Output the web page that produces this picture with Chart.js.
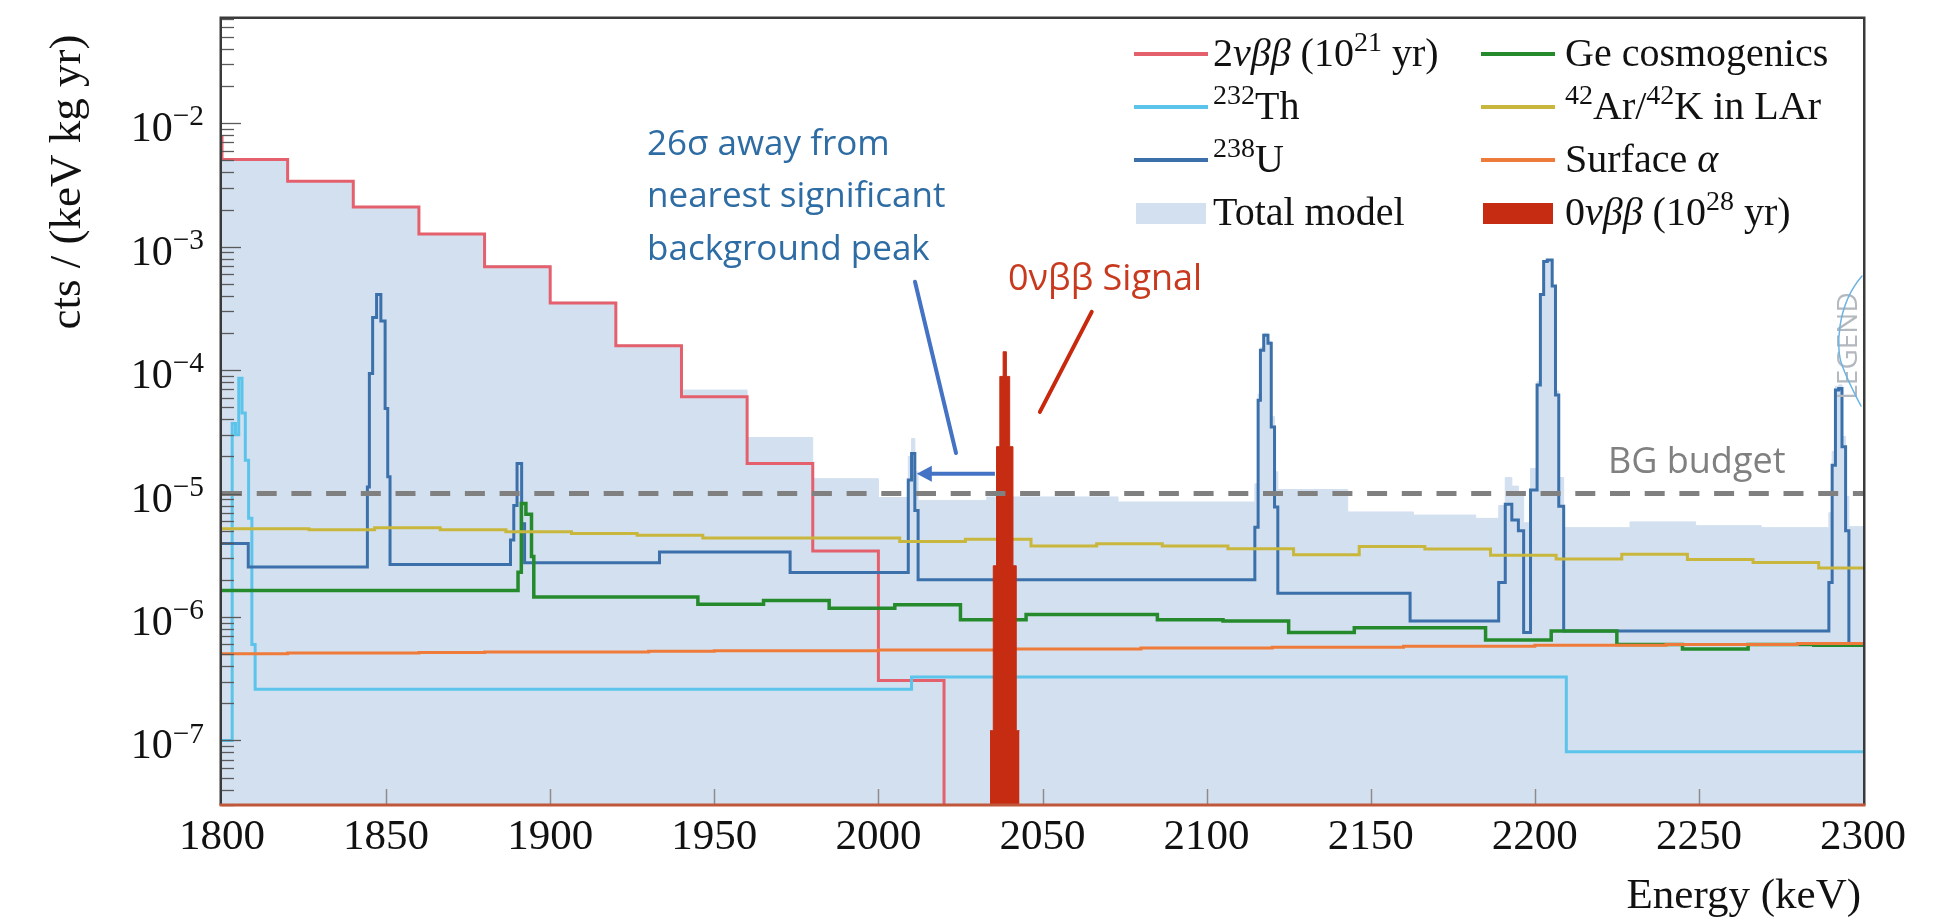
<!DOCTYPE html>
<html>
<head>
<meta charset="utf-8">
<title>Background model around Qbb</title>
<script src="https://cdn.jsdelivr.net/npm/chart.js@4.4.1/dist/chart.umd.min.js"></script>
<style>
  html, body { margin: 0; padding: 0; background: #fff; }
  #wrap { width: 1957px; height: 921px; }
</style>
</head>
<body>
<div id="wrap"><canvas id="bgChart" width="1957" height="921"></canvas></div>
<script>
// Histogram bin edges (keV) and contents (cts / (keV kg yr))
const twoNuEdges = [1780, 1800, 1820, 1840, 1860, 1880, 1900, 1920, 1940, 1960, 1980, 2000, 2020, 2300];
const twoNuValues = [7.7e-3, 5.1e-3, 3.4e-3, 2.1e-3, 1.27e-3, 6.9e-4, 3.5e-4, 1.58e-4, 6.1e-5, 1.75e-5, 3.42e-6, 3.06e-7, 1e-9];

const thEdges = [1800, 1803.1, 1804.1, 1805.1, 1806.1, 1807.1, 1808.1, 1809.1, 1810.1, 2010.1, 2209.6, 2300];
const thValues = [1.0e-7, 3.7e-5, 3.0e-5, 8.6e-5, 4.5e-5, 1.86e-5, 6.3e-6, 6.0e-7, 2.6e-7, 3.26e-7, 8.1e-8];

const uEdges = [1800, 1808.0, 1844.3, 1844.9, 1845.9, 1847.1, 1848.4, 1849.7, 1850.5, 1851.2,
  1887.9, 1888.9, 1889.9, 1891.3, 1892.2, 1933.3, 1973.1, 2009.1, 2010.1, 2011.1, 2012.1,
  2114.7, 2115.7, 2116.4, 2117.4, 2118.7, 2119.7, 2120.7, 2121.7, 2162.0,
  2189.0, 2191.0, 2193.0, 2195.0, 2196.6, 2198.7, 2200.7, 2201.7, 2202.7, 2203.8, 2205.3, 2206.3, 2207.3, 2208.8,
  2289.6, 2290.6, 2291.6, 2292.6, 2293.6, 2294.7, 2295.7, 2300];
const uValues = [3.94e-6, 2.54e-6, 1.13e-5, 9.4e-5, 2.67e-4, 4.1e-4, 2.5e-4, 4.9e-5, 1.37e-5, 2.67e-6,
  4.2e-6, 8.0e-6, 1.75e-5, 5.7e-6, 2.75e-6, 3.36e-6, 2.29e-6, 1.29e-5, 2.11e-5, 7.3e-6, 2.0e-6,
  5.35e-6, 5.7e-5, 1.45e-4, 1.92e-4, 1.65e-4, 3.47e-5, 7.8e-6, 1.56e-6, 9.3e-7,
  1.9e-6, 8.2e-6, 6.1e-6, 5.0e-6, 7.5e-7, 1.07e-5, 7.6e-5, 4.1e-4, 7.6e-4, 7.8e-4, 4.8e-4, 6.3e-5, 7.9e-6, 7.7e-7,
  1.9e-6, 1.7e-5, 6.9e-5, 7.1e-5, 2.4e-5, 5.0e-6, 6.0e-7];

const geEdges = [1800, 1890.2, 1891.2, 1892.6, 1894.3, 1895.0, 1945, 1965, 1985, 2005, 2025, 2045, 2085, 2105, 2125, 2145, 2185, 2205, 2225, 2245, 2265, 2285, 2300];
const geValues = [1.64e-6, 2.31e-6, 8.3e-6, 6.8e-6, 3.1e-6, 1.45e-6, 1.27e-6, 1.36e-6, 1.18e-6, 1.26e-6, 9.5e-7, 1.05e-6, 9.5e-7, 9.3e-7, 7.5e-7, 8.2e-7, 6.5e-7, 7.7e-7, 6.0e-7, 5.5e-7, 6.0e-7, 5.9e-7];

const arEdges = [1800, 1826.5, 1846.5, 1866.5, 1886.5, 1906.5, 1926.5, 1946.5, 2006.5, 2026.5, 2046.5, 2066.5, 2086.5, 2106.5, 2126.5, 2146.5, 2166.5, 2186.5, 2206.5, 2226.5, 2246.5, 2266.5, 2286.5, 2300];
const arValues = [5.2e-6, 5.1e-6, 5.3e-6, 5.1e-6, 4.9e-6, 4.76e-6, 4.6e-6, 4.37e-6, 4.1e-6, 4.27e-6, 3.76e-6, 3.93e-6, 3.76e-6, 3.58e-6, 3.2e-6, 3.72e-6, 3.56e-6, 3.16e-6, 2.95e-6, 3.23e-6, 2.92e-6, 2.77e-6, 2.5e-6];

const alphaEdges = [1800, 1820, 1860, 1880, 1930, 1950, 2000, 2040, 2080, 2120, 2160, 2200, 2240, 2280, 2300];
const alphaValues = [5.05e-7, 5.12e-7, 5.15e-7, 5.2e-7, 5.27e-7, 5.33e-7, 5.4e-7, 5.5e-7, 5.6e-7, 5.7e-7, 5.8e-7, 5.9e-7, 6.0e-7, 6.1e-7];

const totalEdges = [1800, 1820, 1840, 1860, 1880, 1900, 1920, 1940, 1960, 1980, 2000, 2009.1, 2010.1, 2011.1, 2012.1, 2033, 2073,
  2114.7, 2115.7, 2116.4, 2117.4, 2118.7, 2119.7, 2120.7, 2121.7, 2143, 2163, 2182,
  2189, 2191, 2193, 2195, 2196.6, 2198.7, 2200.7, 2201.7, 2202.7, 2203.8, 2205.3, 2206.3, 2207.3, 2208.8,
  2229, 2249, 2269, 2289.6, 2290.6, 2291.6, 2292.6, 2293.6, 2294.7, 2295.7, 2300];
const totalValues = [5.12e-3, 3.42e-3, 2.12e-3, 1.28e-3, 7.0e-4, 3.55e-4, 1.6e-4, 6.9e-5, 2.85e-5, 1.32e-5, 9.3e-6, 2.0e-5, 2.8e-5, 1.5e-5, 8.8e-6, 9.4e-6, 8.55e-6,
  1.2e-5, 6.4e-5, 1.52e-4, 1.99e-4, 1.72e-4, 4.2e-5, 1.5e-5, 1.08e-5, 7.1e-6, 6.7e-6, 6.3e-6,
  8.0e-6, 1.35e-5, 1.15e-5, 1.0e-5, 5.8e-6, 1.6e-5, 8.1e-5, 4.15e-4, 7.65e-4, 7.85e-4, 4.85e-4, 6.8e-5, 1.35e-5, 5.3e-6,
  5.9e-6, 5.5e-6, 5.3e-6, 7.0e-6, 2.2e-5, 7.4e-5, 7.6e-5, 2.9e-5, 9.5e-6, 5.4e-6];

const signalEdges = [2034, 2035, 2036, 2037, 2038, 2039, 2040, 2041, 2042, 2043];
const signalValues = [1.2e-7, 2.6e-6, 2.4e-5, 8.9e-5, 1.41e-4, 8.9e-5, 2.4e-5, 2.6e-6, 1.2e-7];

const budgetLevel = 1e-5;

// Axes
const xRange = [1800, 2300];
const yRange = [3e-8, 7e-2];
const xTicks = [1800, 1850, 1900, 1950, 2000, 2050, 2100, 2150, 2200, 2250, 2300];
const yTickExponents = [-7, -6, -5, -4, -3, -2];
const xTitle = 'Energy (keV)';
const yTitle = 'cts / (keV kg yr)';

// Legend labels ($ toggles italic, ^{..} is a superscript)
const legendLabels = ['2$νββ$ (10^{21} yr)', '^{232}Th', '^{238}U', 'Total model',
  'Ge cosmogenics', '^{42}Ar/^{42}K in LAr', 'Surface $α$', '0$νββ$ (10^{28} yr)'];

const peakNote = ['26σ away from', 'nearest significant', 'background peak'];
const signalNote = '0νββ Signal';
const budgetNote = 'BG budget';

const SERIF = "'Liberation Serif', 'Times New Roman', serif";
const SANS = "'Open Sans', 'Noto Sans', sans-serif";

// helper: histogram -> step points
const toSteps = (edges, values) => {
    const pts = values.map((v, i) => ({ x: edges[i], y: v }));
    pts.push({ x: edges[edges.length - 1], y: values[values.length - 1] });
    return pts;
};

const lineSet = (label, edges, values, color, width, order) => ({
    label, data: toSteps(edges, values), stepped: true,
    borderColor: color, borderWidth: width, backgroundColor: color,
    pointRadius: 0, fill: false, order
});

const ds2nu = lineSet('2νββ', twoNuEdges, twoNuValues, '#e4606d', 3, 7);
const dsTh = lineSet('232Th', thEdges, thValues, '#5cc4ea', 3, 6);
const dsU = lineSet('238U', uEdges, uValues, '#3b70aa', 3, 5);
const dsGe = lineSet('Ge cosmogenics', geEdges, geValues, '#248a2c', 3.5, 4);
const dsAr = lineSet('42Ar/42K in LAr', arEdges, arValues, '#c9b63c', 3, 3);
const dsAlpha = lineSet('Surface alpha', alphaEdges, alphaValues, '#ef7b3a', 3, 2);
const dsTotal = {
    label: 'Total model', data: toSteps(totalEdges, totalValues), stepped: true,
    borderColor: '#d3e0f0', borderWidth: 1, backgroundColor: '#d3e0f0',
    pointRadius: 0, fill: 'start', order: 8, legendBox: true
};
const dsSignal = {
    label: '0νββ', data: toSteps(signalEdges, signalValues), stepped: true,
    borderColor: '#c62c12', borderWidth: 1, backgroundColor: '#c62c12',
    pointRadius: 0, fill: 'start', order: 1, legendBox: true
};
const dsBudget = {
    label: 'BG budget', data: [{ x: xRange[0], y: budgetLevel }, { x: xRange[1], y: budgetLevel }],
    borderColor: '#808080', borderWidth: 5, borderDash: [20, 14.7], pointRadius: 0, fill: false, order: 0
};

const legendSets = [ds2nu, dsTh, dsU, dsTotal, dsGe, dsAr, dsAlpha, dsSignal];

// rich text: italics + superscripts
function richParts(str) {
    const parts = [];
    let it = false, buf = '', i = 0;
    const flush = (sup) => { if (buf) parts.push({ t: buf, it, sup: !!sup }); buf = ''; };
    while (i < str.length) {
        const c = str[i];
        if (c === '$') { flush(); it = !it; i++; }
        else if (c === '^' && str[i + 1] === '{') {
            flush();
            const j = str.indexOf('}', i);
            buf = str.slice(i + 2, j);
            flush(true);
            i = j + 1;
        } else { buf += c; i++; }
    }
    flush();
    return parts;
}

function drawRich(ctx, str, x, y, size, color, measureOnly) {
    let cx = x;
    richParts(str).forEach(p => {
        const s = p.sup ? size * 0.7 : size;
        ctx.font = `${p.it ? 'italic ' : ''}${s}px ${SERIF}`;
        if (!measureOnly) {
            ctx.fillStyle = color;
            ctx.fillText(p.t, cx, p.sup ? y - size * 0.38 : y);
        }
        cx += ctx.measureText(p.t).width;
    });
    return cx - x;
}

const decorPlugin = {
    id: 'decor',
    beforeDatasetsDraw(chart) {
        // frame sits just outside the plot area so edge steps stay visible
        const { ctx, chartArea: area } = chart;
        ctx.save();
        ctx.strokeStyle = '#3a3a3a';
        ctx.lineWidth = 2.5;
        ctx.beginPath();
        ctx.moveTo(area.left - 1.25, area.bottom);
        ctx.lineTo(area.left - 1.25, area.top - 1.25);
        ctx.lineTo(area.right + 1.25, area.top - 1.25);
        ctx.lineTo(area.right + 1.25, area.bottom);
        ctx.stroke();
        ctx.restore();
    },
    afterDatasetsDraw(chart) {
        const { ctx, chartArea: area, scales: { x, y } } = chart;
        const X = v => x.getPixelForValue(v);
        const Y = v => y.getPixelForValue(v);
        ctx.save();
        ctx.textAlign = 'left';
        ctx.textBaseline = 'alphabetic';

        // inner tick marks
        ctx.lineWidth = 1.5;
        ctx.strokeStyle = '#8c8c8c';
        xTicks.forEach(v => {
            if (v <= xRange[0] || v >= xRange[1]) return;
            const px = Math.round(X(v)) + 0.5;
            ctx.beginPath(); ctx.moveTo(px, area.bottom); ctx.lineTo(px, area.bottom - 16); ctx.stroke();
        });
        ctx.strokeStyle = '#5a5a5a';
        ctx.lineWidth = 1.3;
        [-8, ...yTickExponents].forEach(e => {
            for (let m = 1; m <= 9; m++) {
                const v = m * Math.pow(10, e);
                if (v < yRange[0] || v > yRange[1]) continue;
                const py = Math.round(Y(v)) + 0.5;
                ctx.beginPath(); ctx.moveTo(area.left, py); ctx.lineTo(area.left + (m === 1 ? 19 : 12), py); ctx.stroke();
            }
        });

        // bottom axis line
        ctx.strokeStyle = '#c0563a';
        ctx.lineWidth = 3;
        ctx.beginPath(); ctx.moveTo(area.left - 2.5, area.bottom); ctx.lineTo(area.right + 2.5, area.bottom); ctx.stroke();

        // x tick labels
        ctx.fillStyle = '#111';
        ctx.font = `43px ${SERIF}`;
        ctx.textAlign = 'center';
        xTicks.forEach(v => ctx.fillText(String(v), X(v), area.bottom + 44));
        ctx.textAlign = 'right';
        ctx.fillText(xTitle, area.right - 2, area.bottom + 103);

        // y tick labels 10^n
        ctx.textAlign = 'left';
        yTickExponents.forEach(e => {
            const py = Y(Math.pow(10, e));
            const label = `10^{−${-e}}`;
            const w = drawRich(ctx, label, 0, 0, 42, '#111', true);
            drawRich(ctx, label, area.left - 18 - w, py + 18, 42, '#111');
        });

        // y title
        ctx.save();
        ctx.translate(80, 182);
        ctx.rotate(-Math.PI / 2);
        ctx.textAlign = 'center';
        ctx.font = `45px ${SERIF}`;
        ctx.fillStyle = '#111';
        ctx.fillText(yTitle, 0, 0);
        ctx.restore();

        // legend, two columns of four
        ctx.textAlign = 'left';
        const colX = [1134, 1481];
        const textX = [1213, 1565];
        legendSets.forEach((ds, i) => {
            const col = Math.floor(i / 4), row = i % 4;
            const ly = 54 + row * 53;
            if (ds.legendBox) {
                ctx.fillStyle = ds.backgroundColor;
                ctx.fillRect(colX[col] + 2, ly - 10, 70, 21);
            } else {
                ctx.strokeStyle = ds.borderColor;
                ctx.lineWidth = 4;
                ctx.beginPath(); ctx.moveTo(colX[col], ly); ctx.lineTo(colX[col] + 74, ly); ctx.stroke();
            }
            drawRich(ctx, legendLabels[i], textX[col], ly + 12, 40, '#111');
        });

        // annotations
        ctx.font = `35px ${SANS}`;
        ctx.fillStyle = '#2e6ca4';
        const noteX = X(1929.5);
        [5.55e-3, 2.1e-3, 7.8e-4].forEach((v, i) => ctx.fillText(peakNote[i], noteX, Y(v)));
        ctx.fillStyle = '#c8391e';
        ctx.font = `36px ${SANS}`;
        ctx.fillText(signalNote, X(2039.5), Y(4.46e-4));
        ctx.fillStyle = '#808080';
        ctx.fillText(budgetNote, X(2222.3), Y(1.46e-5));

        ctx.lineCap = 'round';
        ctx.lineWidth = 4;
        ctx.strokeStyle = '#4472c4';
        ctx.beginPath(); ctx.moveTo(X(2011.15), Y(5.2e-4)); ctx.lineTo(X(2023.65), Y(2.13e-5)); ctx.stroke();
        const ay = Y(1.45e-5), tipX = X(2011.7);
        ctx.lineCap = 'butt';
        ctx.beginPath(); ctx.moveTo(X(2035.5), ay); ctx.lineTo(tipX + 10, ay); ctx.stroke();
        ctx.fillStyle = '#4472c4';
        ctx.beginPath(); ctx.moveTo(tipX, ay); ctx.lineTo(tipX + 15, ay - 8); ctx.lineTo(tipX + 15, ay + 8); ctx.closePath(); ctx.fill();
        ctx.lineCap = 'round';
        ctx.strokeStyle = '#c8290e';
        ctx.beginPath(); ctx.moveTo(X(2065.0), Y(2.97e-4)); ctx.lineTo(X(2049.2), Y(4.59e-5)); ctx.stroke();

        // LEGEND logo at right edge
        ctx.save();
        ctx.translate(1849, 346);
        ctx.rotate(-Math.PI / 2);
        ctx.textAlign = 'center';
        ctx.textBaseline = 'middle';
        ctx.font = `28px ${SANS}`;
        ctx.fillStyle = '#b4b9bf';
        ctx.fillText('LEGEND', 0, 0);
        ctx.restore();
        ctx.strokeStyle = '#6cb4e4';
        ctx.lineWidth = 1.5;
        ctx.beginPath();
        ctx.moveTo(1862, 276);
        ctx.bezierCurveTo(1836, 306, 1836, 350, 1842, 365);
        ctx.bezierCurveTo(1848, 382, 1856, 396, 1861, 406);
        ctx.stroke();

        ctx.restore();
    }
};

new Chart(document.getElementById('bgChart'), {
    type: 'line',
    data: { datasets: [ds2nu, dsTh, dsU, dsTotal, dsGe, dsAr, dsAlpha, dsSignal, dsBudget] },
    options: {
        responsive: false,
        animation: false,
        devicePixelRatio: 1,
        layout: { padding: { left: 222, right: 94, top: 19, bottom: 116 } },
        scales: {
            x: { type: 'linear', min: xRange[0], max: xRange[1], display: false },
            y: { type: 'logarithmic', min: yRange[0], max: yRange[1], display: false }
        },
        plugins: { legend: { display: false }, tooltip: { enabled: false } }
    },
    plugins: [decorPlugin]
});
</script>
</body>
</html>
